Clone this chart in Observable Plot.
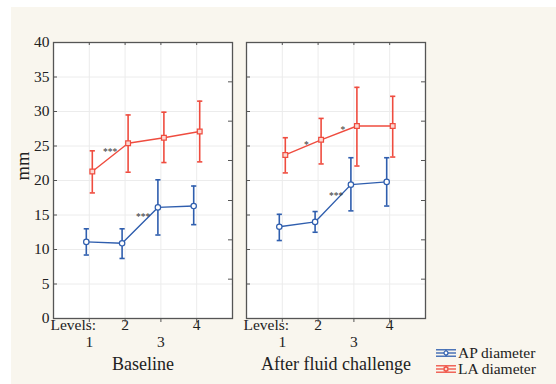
<!DOCTYPE html>
<html>
<head>
<meta charset="utf-8">
<script src="https://cdn.jsdelivr.net/npm/d3@7"></script>
<script src="https://cdn.jsdelivr.net/npm/@observablehq/plot@0.6"></script>
<style>
  html, body { margin: 0; padding: 0; background: #ffffff; }
  #wrap { position: relative; width: 556px; height: 384px; overflow: hidden; }
  #bg { position: absolute; left: 11px; top: 7px; right: 0; bottom: 0; background: #f9f6ee; }
  #chart { position: absolute; left: 0; top: 0; }
  #legend { position: absolute; left: 436px; top: 345px; font-family: "Liberation Serif", serif; font-size: 15.5px; color: #222; line-height: 16px; }
  #legend .row { display: flex; align-items: center; height: 16px; }
  #legend svg { margin-right: 2px; }
</style>
</head>
<body>
<div id="wrap"><div id="bg"></div><div id="chart"></div><div id="legend"></div></div>
<script>
// ---- data ----
const conditions = ["Baseline", "After fluid challenge"];
const levels = [1, 2, 3, 4];
const seriesNames = ["AP diameter", "LA diameter"];
const seriesColors = ["#2f5eae", "#ef4c3f"];

const apMeanBase = [11.1, 10.9, 16.1, 16.3];
const apLowBase  = [9.2, 8.7, 12.1, 13.6];
const apHighBase = [13.0, 13.0, 20.1, 19.2];
const laMeanBase = [21.3, 25.4, 26.2, 27.1];
const laLowBase  = [18.2, 21.2, 22.6, 22.7];
const laHighBase = [24.3, 29.5, 29.9, 31.5];

const apMeanFluid = [13.3, 14.0, 19.4, 19.8];
const apLowFluid  = [11.3, 12.5, 15.6, 16.3];
const apHighFluid = [15.1, 15.5, 23.3, 23.3];
const laMeanFluid = [23.7, 25.9, 27.9, 27.9];
const laLowFluid  = [21.1, 22.4, 22.1, 23.4];
const laHighFluid = [26.2, 29.0, 33.5, 32.2];

const yTicks = [0, 5, 10, 15, 20, 25, 30, 35, 40];
const yGrid = [5, 10, 15, 20, 25, 30, 35];
const rightTicks = [5.7, 11.4, 17.1, 22.9, 28.6, 34.3];
const levelLabelsRow1 = [2, 4];
const levelLabelsRow2 = [1, 3];
const levelsTitle = "Levels:";
const yLabel = "mm";

const annCond = ["Baseline", "Baseline", "After fluid challenge", "After fluid challenge", "After fluid challenge"];
const annX    = [1.58, 2.5, 1.67, 2.69, 2.5];
const annY    = [24.4, 15.0, 25.5, 27.6, 18.0];
const annText = ["***", "***", "*", "*", "***"];

// ---- build tables ----
const source = {
  "Baseline": {
    "AP diameter": [apMeanBase, apLowBase, apHighBase],
    "LA diameter": [laMeanBase, laLowBase, laHighBase]
  },
  "After fluid challenge": {
    "AP diameter": [apMeanFluid, apLowFluid, apHighFluid],
    "LA diameter": [laMeanFluid, laLowFluid, laHighFluid]
  }
};
const rows = [];
for (const cond of conditions) for (const s of seriesNames) {
  const [m, lo, hi] = source[cond][s];
  levels.forEach((lv, i) => rows.push({cond, series: s, level: lv, mean: m[i], lo: lo[i], hi: hi[i]}));
}
const ann = annText.map((t, i) => ({cond: annCond[i], x: annX[i], y: annY[i], text: t}));

const cap = {draw(ctx, size) { const r = Math.sqrt(size / Math.PI); ctx.moveTo(-r, 0); ctx.lineTo(r, 0); }};

const seriesMarks = [];
seriesNames.forEach((s, k) => {
  const data = rows.filter(d => d.series === s);
  const color = seriesColors[k];
  const dx = k === 0 ? -3 : 3;
  seriesMarks.push(
    Plot.line(data, {fx: "cond", x: "level", y: "mean", z: "cond", stroke: color, strokeWidth: 1.4, dx}),
    Plot.ruleX(data, {fx: "cond", x: "level", y1: "lo", y2: "hi", stroke: color, strokeWidth: 1.6, dx}),
    Plot.dot(data, {fx: "cond", x: "level", y: "lo", symbol: cap, r: 2.6, stroke: color, strokeWidth: 1.6, fill: "none", dx}),
    Plot.dot(data, {fx: "cond", x: "level", y: "hi", symbol: cap, r: 2.6, stroke: color, strokeWidth: 1.6, fill: "none", dx}),
    Plot.dot(data, {fx: "cond", x: "level", y: "mean", symbol: k === 0 ? "circle" : "square", r: 2.7,
      stroke: color, strokeWidth: 1.2, fill: k === 0 ? "white" : "#fbd8d2", dx})
  );
});

const font = "Liberation Serif, Times New Roman, serif";
const chart = Plot.plot({
  width: 556,
  height: 384,
  marginLeft: 53,
  marginRight: 130,
  marginTop: 42,
  marginBottom: 66,
  style: {background: "transparent", fontFamily: font, fontSize: "15.5px", color: "#222"},
  fx: {domain: conditions, paddingInner: 14 / 194, paddingOuter: 0, axis: null, label: null},
  x: {domain: [0, 5], axis: null},
  y: {domain: [0, 40], axis: null},
  marks: [
    Plot.frame({fill: "white", stroke: null}),
    Plot.ruleY(yGrid, {stroke: "#ececec", strokeWidth: 1}),
    Plot.ruleX(levels, {stroke: "#ececec", strokeWidth: 1}),
    Plot.frame({stroke: "#555", strokeWidth: 1.3}),
    Plot.tickY(yTicks, {y: d => d, stroke: "#555", insetRight: 175}),
    Plot.tickY(rightTicks, {y: d => d, stroke: "#555", insetLeft: 175}),
    Plot.tickX(levels, {x: d => d, stroke: "#555", insetBottom: 273}),
    Plot.axisX({ticks: levels, tickSize: 4, tickFormat: () => "", stroke: "#555", label: null}),
    Plot.axisY({ticks: yTicks, tickSize: 0, tickPadding: 4, fontSize: 15.5, fill: "#222", label: null}),
    Plot.text([yLabel], {fx: () => conditions[0], text: d => d, frameAnchor: "left", rotate: -90, dx: -30, fontSize: 18.5, fill: "#222"}),
    Plot.text(levelLabelsRow1, {x: d => d, text: d => String(d), frameAnchor: "bottom", dy: 11, fontSize: 15.5, fill: "#222"}),
    Plot.text(levelLabelsRow2, {x: d => d, text: d => String(d), frameAnchor: "bottom", dy: 28, fontSize: 15.5, fill: "#222"}),
    Plot.text([levelsTitle], {frameAnchor: "bottom-left", textAnchor: "start", dx: -3, dy: 11, fontSize: 15.5, fill: "#222"}),
    Plot.text(conditions, {fx: d => d, text: d => d, frameAnchor: "bottom", dy: 51, fontSize: 18, fill: "#222"}),
    ...seriesMarks,
    Plot.text(ann, {fx: "cond", x: "x", y: "y", text: "text", fontSize: 9.5, fill: "#333", dy: 2})
  ]
});
document.getElementById("chart").appendChild(chart);

// ---- legend ----
const legend = document.getElementById("legend");
seriesNames.forEach((s, k) => {
  const c = seriesColors[k];
  const mk = k === 0
    ? `<circle cx="10" cy="8" r="2" fill="white" stroke="${c}" stroke-width="1.2"/>`
    : `<rect x="8.2" y="6.2" width="3.6" height="3.6" fill="#fbd8d2" stroke="${c}" stroke-width="1.2"/>`;
  const row = document.createElement("div");
  row.className = "row";
  row.innerHTML = `<svg width="20" height="16"><g stroke="${c}" stroke-width="1.3">
    <line x1="0" y1="4.8" x2="20" y2="4.8"/><line x1="0" y1="8" x2="20" y2="8"/>
    <line x1="0" y1="11.2" x2="20" y2="11.2"/><line x1="10" y1="4.8" x2="10" y2="11.2"/></g>${mk}</svg><span>${s}</span>`;
  legend.appendChild(row);
});
</script>
</body>
</html>
